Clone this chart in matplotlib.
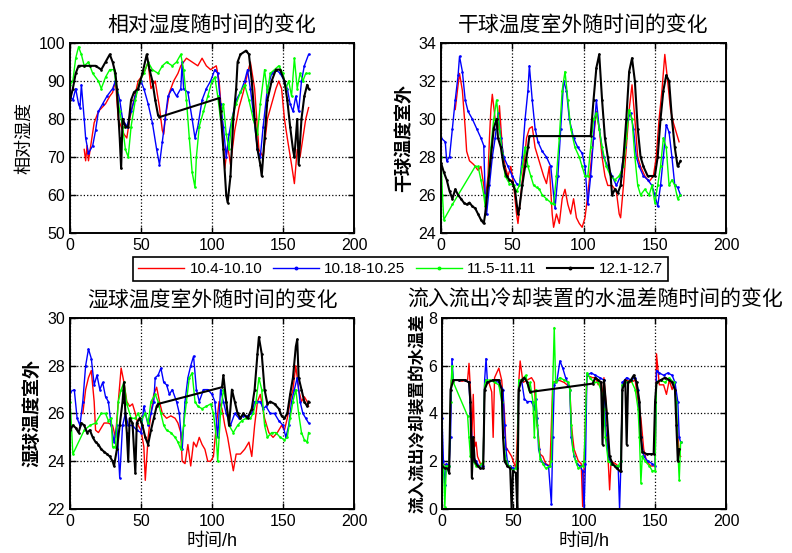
import numpy as np
import matplotlib
matplotlib.use('Agg')
import matplotlib.pyplot as plt

plt.rcParams['font.family'] = ['Liberation Sans', 'Noto Sans CJK SC', 'DejaVu Sans']

# legend labels (one per week of data)
labels = ['10.4-10.10', '10.18-10.25', '11.5-11.11', '12.1-12.7']

# ---- relative humidity (%) ----
rh_red_t = [10, 11, 12, 13, 15, 17, 20, 25, 28, 30, 32, 34, 36, 38, 40, 42, 45, 48, 52, 55, 57, 60, 63, 65, 66, 67, 70, 73, 76, 78, 82, 86, 90, 93, 96, 99, 103, 105, 107, 109, 111, 113, 116, 119, 122, 125, 127, 130, 133, 136, 139, 142, 145, 147, 149, 151, 153, 156, 158, 160, 162, 164, 166, 168]
rh_red_v = [72, 69, 73, 69, 74, 79, 82, 84, 86, 87, 90, 80, 78, 76, 75, 80, 85, 90, 92, 95, 88, 90, 83, 77, 76, 80, 87, 90, 92, 94, 96, 95, 94, 96, 94, 93, 94, 90, 80, 67, 73, 68, 77, 83, 87, 92, 95, 88, 72, 70, 80, 84, 88, 90, 88, 80, 75, 68, 63, 72, 70, 75, 80, 83]
rh_blu_t = [0, 2, 4, 6, 7, 8, 10, 11, 13, 16, 18, 20, 23, 26, 30, 32, 35, 37, 40, 43, 46, 50, 52, 55, 58, 61, 63, 65, 67, 69, 72, 75, 78, 79, 80, 83, 86, 88, 90, 93, 96, 99, 102, 104, 106, 108, 110, 112, 114, 117, 120, 123, 125, 127, 129, 132, 134, 136, 139, 142, 145, 148, 151, 153, 155, 157, 159, 161, 163, 165, 168]
rh_blu_v = [86, 85, 88, 84, 83, 89, 80, 75, 71, 73, 77, 82, 84, 86, 88, 90, 85, 80, 78, 82, 86, 90, 88, 84, 79, 72, 68, 74, 80, 86, 88, 86, 88, 95, 88, 87, 80, 75, 78, 85, 88, 90, 93, 92, 84, 78, 70, 76, 80, 85, 87, 90, 93, 88, 82, 72, 70, 78, 88, 92, 93, 92, 90, 88, 84, 82, 86, 82, 90, 94, 97]
rh_grn_t = [0, 2, 4, 6, 8, 10, 13, 16, 20, 22, 25, 28, 31, 33, 35, 37, 39, 41, 43, 46, 49, 52, 55, 58, 62, 65, 68, 72, 75, 78, 80, 82, 84, 86, 88, 89, 91, 94, 97, 100, 102, 104, 106, 108, 110, 112, 114, 117, 120, 123, 126, 129, 132, 134, 137, 139, 141, 144, 147, 150, 152, 154, 156, 158, 160, 162, 164, 166, 168]
rh_grn_v = [89, 90, 96, 99, 97, 94, 95, 92, 90, 88, 91, 93, 93, 87, 82, 78, 72, 70, 78, 85, 90, 92, 95, 93, 92, 94, 95, 94, 95, 97, 93, 85, 75, 66, 62, 70, 78, 82, 86, 90, 91, 86, 80, 84, 76, 72, 80, 84, 87, 89, 85, 80, 76, 84, 93, 87, 92, 93, 94, 92, 88, 90, 86, 96, 88, 92, 90, 92, 92]
rh_blk_t = [0, 2, 4, 6, 10, 14, 18, 22, 25, 28, 30, 32, 33, 35, 36, 37, 39, 41, 43, 45, 48, 51, 54, 56, 58, 60, 62, 63, 105, 106, 108, 110, 111, 113, 115, 117, 118, 120, 124, 126, 128, 130, 132, 134, 135, 137, 139, 142, 145, 148, 151, 153, 155, 157, 158, 160, 161, 163, 165, 167, 168]
rh_blk_v = [85, 88, 92, 94, 94, 94, 94, 93, 95, 97, 95, 92, 88, 75, 67, 80, 78, 78, 85, 87, 88, 92, 97, 93, 90, 85, 81, 80.5, 85.5, 82, 72, 60, 58, 65, 80, 88, 95, 97, 98, 97, 90, 80, 72, 68, 65, 75, 85, 90, 93, 93, 90, 85, 78, 72, 70, 80, 68, 80, 86, 89, 88]

# ---- outdoor dry bulb temperature ----
db_red_t = [10, 12, 13, 15, 17, 18, 20, 23, 26, 28, 30, 31, 33, 34, 35, 36, 38, 40, 41, 43, 45, 47, 49, 51, 53, 54, 56, 58, 60, 62, 64, 66, 68, 70, 72, 74, 76, 78, 79, 81, 83, 85, 87, 89, 91, 93, 95, 97, 99, 101, 103, 105, 107, 109, 111, 113, 115, 117, 120, 123, 125, 126, 128, 130, 132, 134, 136, 138, 140, 143, 146, 149, 151, 153, 155, 157, 159, 161, 163, 165, 167]
db_red_v = [30.5, 31.8, 32.4, 31.5, 29.5, 28.3, 27.8, 27.6, 27.3, 27.5, 26.5, 25.7, 27, 29, 30.5, 31.3, 30, 29.5, 30.7, 28.5, 27.5, 27, 27.5, 26.5, 25, 24.5, 26, 27.5, 29, 29.5, 29.6, 28.5, 28, 27.5, 27, 26.6, 27.5, 25, 24.3, 25, 24.5, 25.8, 26.3, 25.5, 25, 25.8, 24.8, 24.5, 24.3, 24.8, 26, 27.5, 29, 30.4, 29.5, 28, 27, 26.5, 26.5, 26.2, 25, 24.8, 26.5, 28.5, 30.5, 31.8, 30, 28, 27.5, 27, 26.7, 27, 28, 30, 31.5, 33.4, 32, 30.5, 29.8, 29.3, 28.8]
db_blu_t = [0, 3, 4, 6, 8, 10, 12, 13, 15, 17, 19, 22, 25, 28, 30, 31, 32, 34, 36, 38, 40, 42, 44, 47, 50, 53, 55, 57, 59, 61, 62, 64, 66, 68, 71, 74, 77, 79, 80, 82, 84, 86, 88, 90, 93, 96, 99, 101, 103, 105, 107, 109, 111, 114, 117, 120, 123, 126, 129, 131, 133, 135, 137, 139, 142, 145, 148, 150, 152, 154, 156, 158, 160, 162, 164, 166, 168]
db_blu_v = [29, 28.8, 27.8, 28, 29.5, 31, 32.3, 33.3, 32.5, 31, 30.4, 30, 29.5, 29, 28.6, 26, 25, 26.5, 28, 29, 30.3, 29, 28, 27.5, 27, 26.6, 26.5, 28, 30, 31.5, 32.8, 31, 29.5, 28.8, 28.3, 28, 27.5, 26, 25.3, 27, 29.5, 32, 31.5, 30, 29, 28.5, 28.2, 27.5, 25.5, 27, 29, 31, 29.5, 28, 27.5, 27, 26.5, 27, 28.5, 30, 30.3, 29.5, 28, 27.5, 27, 26.8, 26.5, 26, 25.4, 26.5, 28, 29.7, 29.3, 28, 26.5, 26.4, 26]
db_grn_t = [0, 1, 2, 8, 24, 26, 28, 30, 31, 33, 35, 37, 39, 41, 43, 45, 48, 51, 53, 55, 57, 59, 61, 63, 65, 67, 69, 71, 74, 77, 79, 81, 83, 85, 87, 89, 91, 94, 97, 99, 101, 103, 105, 107, 109, 111, 113, 116, 119, 122, 125, 128, 130, 132, 134, 136, 138, 140, 143, 146, 148, 150, 152, 154, 156, 158, 160, 162, 164, 166, 168]
db_grn_v = [28, 26, 24.7, 25.5, 27.5, 27.5, 26.8, 26, 25.4, 26.5, 28.5, 30, 31, 29.5, 28.2, 27, 26.6, 26.5, 26.2, 26.5, 27.5, 28.5, 27.5, 27, 26.5, 26.4, 26.3, 26, 25.8, 25.6, 25.5, 27, 29, 31.5, 32.5, 31, 29.5, 28.5, 28, 27.5, 27, 27, 28.5, 30, 30.3, 29.5, 28.5, 27.5, 27, 26.8, 27, 27.5, 29, 30.5, 30, 28, 26.5, 26, 26.3, 26, 26.5, 25.6, 26.5, 27.5, 29, 28.5, 26.5, 26.8, 26.5, 25.8, 26]
db_blk_t = [0, 2, 4, 6, 8, 10, 12, 14, 16, 18, 20, 22, 24, 26, 28, 30, 31, 33, 35, 37, 39, 40, 42, 44, 46, 48, 50, 52, 54, 55, 57, 59, 61, 62, 105, 107, 109, 111, 113, 115, 117, 119, 120, 122, 124, 126, 128, 130, 132, 134, 136, 138, 140, 142, 145, 148, 150, 152, 154, 156, 158, 160, 162, 164, 166, 168]
db_blk_v = [27.7, 27.2, 26.8, 26.2, 25.8, 26.3, 26, 25.8, 25.6, 25.5, 25.6, 25.4, 25.3, 25, 24.7, 24.5, 25, 26.5, 28, 29.5, 30, 29, 28.5, 27.5, 27, 26.8, 26.7, 26.2, 25, 25.3, 26.5, 27.5, 28.5, 29.1, 29.1, 31, 32.7, 33.4, 31, 29, 28, 27, 26, 26.3, 26.1, 26.5, 28, 30, 32.5, 33.2, 32, 29.5, 28, 27.5, 27, 27, 27, 28, 30, 31.5, 32.3, 32, 30, 28.5, 27.5, 27.8]

# ---- outdoor wet bulb temperature ----
wb_red_t = [9, 11, 13, 15, 17, 18, 20, 22, 24, 27, 30, 32, 34, 36, 38, 40, 42, 44, 46, 48, 50, 52, 53, 55, 57, 59, 61, 63, 65, 68, 71, 74, 76, 78, 79, 81, 83, 85, 87, 89, 91, 93, 95, 97, 99, 101, 103, 105, 107, 109, 111, 113, 115, 117, 120, 123, 126, 128, 130, 132, 134, 137, 140, 143, 146, 149, 151, 153, 155, 157, 159, 161, 163, 165, 167, 168]
wb_red_v = [26, 27, 27.5, 27.8, 26.5, 25.3, 25.2, 25.4, 25.6, 25.6, 25.5, 25, 26.5, 27.9, 27.3, 26.5, 26.3, 26.4, 26, 25.5, 25.3, 24.6, 23.2, 25, 26, 26.8, 27.1, 26.5, 26, 25.8, 25.9, 25.8, 25.6, 25.2, 24, 23.9, 24.7, 23.8, 24.8, 24.6, 25, 24.7, 24.5, 24, 24, 24.2, 25.5, 26.5, 26.2, 25.5, 25, 24.3, 23.6, 24.3, 24.3, 24.5, 24.8, 24.2, 25.5, 26.5, 26.8, 25.8, 25.2, 25, 25.2, 25.5, 25.3, 25.8, 26.5, 27, 28, 27, 26.5, 26.7, 26.5, 26.3]
wb_blu_t = [0, 3, 5, 7, 9, 11, 13, 15, 17, 19, 21, 23, 25, 27, 29, 31, 33, 35, 37, 39, 41, 44, 47, 50, 52, 55, 57, 59, 60, 62, 64, 66, 68, 70, 72, 75, 77, 79, 81, 83, 85, 87, 89, 91, 94, 97, 100, 102, 104, 106, 108, 110, 113, 116, 119, 122, 125, 128, 130, 132, 134, 136, 138, 141, 144, 147, 150, 152, 154, 156, 158, 160, 162, 164, 166, 168]
wb_blu_v = [26.9, 27, 25.8, 25.5, 26.5, 28, 28.7, 28.3, 27.2, 27.6, 27, 27.3, 26.7, 26.5, 25.5, 24.8, 25.5, 23.3, 25.5, 26, 25.5, 25.5, 25.3, 25.2, 26.3, 25.5, 26, 26.5, 27.5, 27.6, 27.9, 27.3, 27.2, 26.8, 27, 26.5, 26, 24.5, 26.5, 27.5, 28, 28.4, 27, 26.5, 27, 27, 26.8, 26.5, 25, 27, 26.5, 26, 25.5, 26, 25.8, 25.9, 25.9, 26, 26.5, 26.5, 26.5, 26.2, 26.3, 26, 26, 25.7, 25.5, 25, 25.5, 26.5, 27, 27.5, 26.5, 26, 25.8, 25.6]
wb_grn_t = [0, 1, 2, 10, 14, 18, 22, 25, 27, 29, 30, 32, 34, 36, 38, 40, 43, 46, 48, 50, 53, 55, 57, 60, 62, 64, 66, 68, 71, 74, 76, 78, 80, 82, 84, 86, 88, 90, 93, 96, 99, 101, 103, 104, 106, 108, 110, 112, 115, 118, 121, 124, 127, 129, 131, 133, 135, 137, 139, 142, 145, 148, 151, 153, 155, 157, 159, 161, 163, 165, 167, 168]
wb_grn_v = [26.5, 25.5, 24.3, 25.3, 25.5, 25.6, 26, 26, 25.7, 25.8, 24.6, 24.6, 26.5, 27, 27.3, 26.4, 25.8, 25.8, 26, 25.7, 26, 25.6, 26.5, 26.8, 26.5, 26, 25.5, 25.3, 25.2, 25, 24.8, 24.5, 25.5, 26.5, 27.5, 27.7, 26.5, 26.3, 26.2, 26.3, 26.4, 26, 25, 24, 26, 27, 26.5, 25.5, 25.2, 25.5, 25.7, 25.8, 25.8, 26, 26.5, 27.5, 27, 25.5, 25, 25.2, 25.2, 25, 24.9, 25, 25.8, 26.5, 27, 26, 25.2, 24.9, 24.8, 25.2]
wb_blk_t = [0, 2, 4, 6, 8, 10, 12, 14, 16, 18, 20, 22, 24, 26, 28, 30, 31, 33, 35, 37, 38, 39, 40, 41, 42, 44, 46, 47, 49, 51, 53, 55, 57, 59, 61, 62, 107, 108, 110, 112, 114, 116, 118, 120, 122, 125, 128, 130, 132, 133, 135, 137, 139, 141, 144, 147, 149, 151, 153, 155, 157, 159, 160, 161, 163, 165, 167, 168]
wb_blk_v = [25.3, 25.5, 25.4, 25.2, 25.6, 25.5, 25.2, 25.3, 25, 24.8, 24.7, 24.5, 24.4, 24.3, 24.2, 24, 23.8, 24.5, 25.5, 26.5, 27.3, 26, 25.2, 24, 25.8, 25.6, 23.5, 25.6, 25.8, 25.5, 25, 24.7, 25.3, 25.8, 26.3, 26.4, 27.1, 27.6, 26.5, 25.5, 27, 26.5, 26, 25.8, 26, 25.8, 26.2, 27, 28.5, 29.2, 28.5, 27, 26.4, 26.5, 26.4, 26.2, 25.9, 25.8, 26, 26.8, 27.5, 28.8, 29.1, 27.5, 27, 26.5, 26.3, 26.5]

# ---- water temperature difference in/out of cooling unit ----
dt_red_t = [0, 5, 6.5, 10, 14, 18, 19, 20, 21, 22, 23, 24, 25, 27, 29, 30, 33, 35, 36, 37, 40, 42, 44, 45, 47, 49, 52, 53, 54, 55, 57, 60, 63, 65, 66, 68, 69, 71, 73, 76, 78, 82, 86, 90, 91, 92, 93, 96, 98, 99, 100, 102, 106, 108, 110, 112, 113, 114, 116, 117, 118, 119, 122, 124, 126, 127, 130, 133, 136, 138, 140, 142, 144, 147, 150, 151, 153, 156, 158, 160, 162, 164, 165, 167, 168]
dt_red_v = [1.9, 1.8, 5.4, 5.4, 5.35, 5.4, 6.1, 5.0, 3.0, 4.8, 2.6, 2.8, 2.2, 1.9, 1.9, 5.2, 5.3, 4.9, 3.0, 5.5, 5.9, 5.4, 4.0, 2.6, 2.4, 2.2, 1.7, 3.0, 5.3, 6.2, 5.3, 5.4, 5.5, 5.3, 4.0, 3.0, 2.3, 2.2, 1.9, 1.8, 5.3, 5.4, 5.3, 5.1, 3.6, 3.0, 2.5, 2.0, 1.9, 0.1, 1.8, 5.6, 5.5, 5.5, 5.2, 5.3, 4.6, 5.5, 4.0, 2.0, 0.8, 2.0, 1.9, 1.8, 1.8, 5.2, 5.4, 5.3, 5.4, 4.5, 3.8, 2.5, 2.0, 1.8, 1.8, 6.5, 5.2, 5.2, 4.8, 5.4, 5.0, 5.3, 4.0, 2.3, 2.2]
dt_blu_t = [0, 1, 2, 3, 5, 6, 7, 8, 12, 16, 19, 20, 21, 22, 24, 26, 29, 30, 31, 32, 36, 40, 43, 44, 45, 46, 47, 48, 50, 53, 54, 56, 58, 60, 63, 65, 66, 67, 68, 70, 72, 75, 77, 78, 79, 81, 83, 85, 87, 89, 90, 91, 93, 95, 97, 99, 100, 101, 102, 105, 108, 111, 114, 115, 117, 119, 122, 124, 125, 126, 127, 130, 133, 136, 138, 140, 142, 145, 148, 150, 151, 153, 156, 159, 162, 164, 166, 167, 168]
dt_blu_v = [3.8, 2.0, 1.0, 1.9, 1.8, 3.0, 6.3, 5.4, 5.4, 5.4, 5.3, 4.0, 3.0, 2.2, 2.0, 1.8, 1.8, 5.4, 6.3, 5.3, 5.4, 5.3, 5.0, 3.5, 2.5, 2.0, 1.8, 1.8, 1.7, 1.7, 5.3, 5.4, 4.6, 4.5, 4.5, 4.2, 4.6, 3.8, 2.5, 2.0, 1.9, 1.8, 0.2, 3.0, 5.2, 5.4, 6.2, 5.9, 5.5, 5.2, 5.0, 3.0, 2.2, 1.9, 1.8, 1.6, 0.0, 1.9, 5.6, 5.7, 5.6, 5.5, 5.4, 3.5, 2.2, 1.9, 1.8, 1.8, 0.0, 2.0, 5.3, 5.5, 5.4, 5.5, 5.0, 3.0, 2.2, 2.0, 1.9, 1.8, 5.8, 5.7, 5.6, 5.7, 5.6, 5.3, 4.5, 3.0, 2.8]
dt_grn_t = [0, 1, 2, 3, 5, 6, 7, 8, 18, 19, 20, 22, 24, 26, 28, 29, 30, 31, 34, 37, 40, 42, 43, 45, 47, 50, 52, 53, 54, 56, 59, 61, 62, 64, 65, 66, 67, 69, 71, 73, 76, 77, 78, 79, 80, 83, 86, 89, 90, 91, 92, 94, 96, 99, 100, 102, 104, 107, 110, 113, 114, 115, 117, 119, 122, 124, 126, 127, 130, 133, 136, 138, 139, 140, 141, 143, 146, 148, 150, 151, 154, 157, 160, 163, 165, 166, 167, 168]
dt_grn_v = [1.9, 1.8, 0.1, 1.8, 1.8, 4.5, 6.0, 5.3, 3.9, 3.0, 2.2, 2.0, 1.8, 1.8, 1.9, 2.0, 5.2, 5.4, 5.4, 5.3, 5.2, 4.5, 3.0, 2.0, 1.8, 1.6, 1.7, 2.0, 5.4, 5.4, 5.6, 5.0, 5.3, 4.5, 3.0, 5.0, 3.5, 2.1, 1.9, 1.7, 1.8, 2.0, 5.3, 7.6, 5.3, 5.5, 5.4, 5.3, 5.0, 3.5, 2.5, 2.0, 1.7, 1.8, 2.0, 5.7, 5.5, 5.3, 5.3, 4.8, 4.2, 3.0, 2.0, 1.9, 1.8, 1.8, 2.0, 5.2, 5.3, 5.4, 5.0, 4.2, 3.0, 1.1, 2.2, 2.0, 1.8, 1.6, 1.6, 5.3, 5.4, 5.3, 5.5, 5.3, 4.5, 2.5, 1.2, 2.8]
dt_blk_t = [0, 2, 4, 5, 6, 8, 12, 16, 19, 20, 21, 22, 23, 25, 27, 29, 30, 32, 36, 40, 42, 43, 44, 46, 48, 49, 50, 52, 53, 54, 56, 58, 60, 62, 106, 108, 110, 112, 113, 114, 116, 118, 120, 123, 125, 126, 127, 129, 130, 131, 133, 135, 137, 139, 140, 141, 144, 147, 149, 150, 151, 154, 157, 160, 162, 164, 165, 166, 167]
dt_blk_v = [1.8, 1.7, 1.7, 1.5, 5.0, 5.4, 5.4, 5.4, 5.3, 4.5, 1.3, 3.0, 2.0, 1.8, 1.7, 1.7, 5.0, 5.3, 5.4, 5.4, 5.0, 3.0, 2.0, 1.8, 1.7, 0.0, 1.6, 1.5, 0.0, 5.0, 5.4, 5.5, 5.3, 4.9, 5.25, 5.5, 5.4, 5.3, 2.7, 5.4, 4.0, 2.2, 1.9, 1.7, 1.6, 1.6, 5.0, 5.4, 2.7, 5.3, 5.4, 5.6, 5.3, 4.5, 3.0, 2.4, 2.3, 2.3, 2.3, 4.5, 5.3, 5.4, 5.5, 5.4, 5.3, 5.0, 3.5, 2.0, 2.5]

colors = ['#ff0000', '#0000ff', '#00ff00', '#000000']
markers = ['', '.', '.', '.']

panels = [
    ('相对湿度随时间的变化', '相对湿度', 'normal', (50, 100), 10,
     [(rh_red_t, rh_red_v), (rh_blu_t, rh_blu_v), (rh_grn_t, rh_grn_v), (rh_blk_t, rh_blk_v)]),
    ('干球温度室外随时间的变化', '干球温度室外', 'bold', (24, 34), 2,
     [(db_red_t, db_red_v), (db_blu_t, db_blu_v), (db_grn_t, db_grn_v), (db_blk_t, db_blk_v)]),
    ('湿球温度室外随时间的变化', '湿球温度室外', 'bold', (22, 30), 2,
     [(wb_red_t, wb_red_v), (wb_blu_t, wb_blu_v), (wb_grn_t, wb_grn_v), (wb_blk_t, wb_blk_v)]),
    ('流入流出冷却装置的水温差随时间的变化', '流入流出冷却装置的水温差', 'bold', (0, 8), 2,
     [(dt_red_t, dt_red_v), (dt_blu_t, dt_blu_v), (dt_grn_t, dt_grn_v), (dt_blk_t, dt_blk_v)]),
]

# axes rectangles in figure fractions
rects = [[0.0884, 0.5787, 0.3586, 0.3435],
         [0.5568, 0.5787, 0.3600, 0.3435],
         [0.0884, 0.0796, 0.3586, 0.3454],
         [0.5581, 0.0796, 0.3587, 0.3454]]

fig = plt.figure(figsize=(7.92, 5.53), dpi=100)
handles = []
for k, (title, ylab, wt, ylim, ystep, series) in enumerate(panels):
    ax = fig.add_axes(rects[k])
    for j, (t, v) in enumerate(series):
        lw = 1.5 if j == 3 else 1.0
        h, = ax.plot(t, v, color=colors[j], lw=lw, marker=markers[j], ms=1.8, label=labels[j])
        if k == 0:
            handles.append(h)
    ax.set_xlim(0, 200)
    ax.set_ylim(*ylim)
    ax.set_xticks(np.arange(0, 201, 50))
    ax.set_yticks(np.arange(ylim[0], ylim[1] + 0.1, ystep))
    ax.grid(True, linestyle=':', color='k', linewidth=0.9)
    ax.tick_params(direction='in', top=True, right=True, length=4, width=1, labelsize=11.5)
    for s in ax.spines.values():
        s.set_linewidth(1.4)
    if k == 3:
        ax.set_title(title, fontsize=15, pad=9, x=0.54)
        ax.set_ylabel(ylab, fontsize=12, fontweight=wt, labelpad=2)
    else:
        ax.set_title(title, fontsize=15, pad=9)
        ax.set_ylabel(ylab, fontsize=13, fontweight=wt, labelpad=4)
    if k >= 2:
        ax.set_xlabel('时间/h', fontsize=13, labelpad=3)

# legend between the two rows
leg = fig.legend(handles, labels, ncol=4, loc='center',
                 bbox_to_anchor=(0.5057, 0.5136), fontsize=11,
                 handlelength=3.0, handletextpad=0.35, columnspacing=0.7,
                 fancybox=False, edgecolor='k', framealpha=1,
                 borderaxespad=0, borderpad=0.35, markerscale=2)
leg.get_frame().set_linewidth(1.2)

fig.savefig('out.png', dpi=100)
